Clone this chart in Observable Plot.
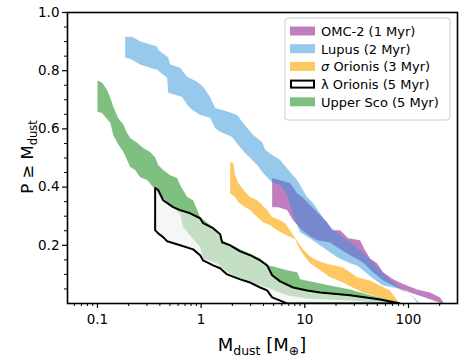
<!DOCTYPE html>
<html><head><meta charset="utf-8">
<script src="https://cdn.jsdelivr.net/npm/d3@7"></script>
<script src="https://cdn.jsdelivr.net/npm/@observablehq/plot@0.6"></script>
<style>
body{margin:0;background:#fff}
#chart svg{font-family:"DejaVu Sans",sans-serif}
</style>
</head><body><div id="chart"></div>
<script>
// ---- data (M_dust in Earth masses, P >= M_dust) ----
const omcHiM = [4.84, 7.21, 8.43, 9.42, 12.0, 16.4, 18.3, 21.9, 26.2, 34.1, 38.1, 42.6, 49.8, 56.9, 71.0, 86.7, 121, 161.5, 201.6, 220];
const omcHiP = [0.431, 0.414, 0.379, 0.366, 0.328, 0.279, 0.252, 0.252, 0.224, 0.217, 0.183, 0.155, 0.138, 0.107, 0.083, 0.069, 0.048, 0.038, 0.021, 0];
const omcLoM = [4.84, 5.53, 6.75, 7.71, 9.42, 11.25, 13.1, 17.5, 25.6, 36.5, 45.5, 56.9, 77.6, 103.5, 144.5, 210.8];
const omcLoP = [0.331, 0.331, 0.321, 0.286, 0.252, 0.231, 0.217, 0.21, 0.172, 0.141, 0.107, 0.079, 0.055, 0.038, 0.021, 0];

const lupHiM = [0.185, 0.216, 0.258, 0.308, 0.376, 0.385, 0.481, 0.502, 0.627, 0.733, 0.915, 1.045, 1.221, 1.365, 1.822, 2.23, 2.49, 2.78, 3.18, 3.88, 4.14, 4.84, 5.78, 7.21, 8.43, 10.5, 12.0, 14.05, 16.4, 20.5, 25.6, 34.1, 45.5, 59.4, 77.6, 96.9, 115.7, 129.3];
const lupHiP = [0.917, 0.917, 0.9, 0.893, 0.883, 0.872, 0.845, 0.821, 0.81, 0.779, 0.762, 0.745, 0.71, 0.672, 0.659, 0.648, 0.624, 0.603, 0.579, 0.555, 0.528, 0.51, 0.493, 0.452, 0.424, 0.366, 0.345, 0.31, 0.276, 0.241, 0.217, 0.183, 0.141, 0.097, 0.062, 0.038, 0.017, 0];
const lupLoM = [0.185, 0.207, 0.258, 0.322, 0.376, 0.47, 0.481, 0.561, 0.655, 0.733, 0.819, 0.978, 1.221, 1.365, 1.525, 1.99, 2.28, 2.66, 2.97, 3.47, 3.97, 4.84, 5.78, 6.75, 7.71, 9.01, 10.8, 13.1, 16.4, 20.5, 27.3, 31.9, 36.5, 45.5, 56.9, 77.6, 96.9, 110.6, 123.7];
const lupLoP = [0.845, 0.841, 0.821, 0.81, 0.803, 0.776, 0.724, 0.717, 0.71, 0.683, 0.666, 0.648, 0.638, 0.603, 0.59, 0.572, 0.545, 0.517, 0.5, 0.476, 0.448, 0.417, 0.407, 0.372, 0.303, 0.245, 0.228, 0.207, 0.183, 0.159, 0.138, 0.131, 0.114, 0.086, 0.062, 0.052, 0.038, 0.021, 0];

const sigHiM = [1.904, 2.04, 2.13, 2.28, 2.49, 2.66, 2.97, 3.47, 3.71, 4.33, 4.84, 5.78, 6.46, 7.21, 8.06, 9.42, 10.5, 12.0, 14.7, 17.5, 23.4, 27.3, 31.9, 42.6, 53.2, 66.4, 79.3, 82.9];
const sigHiP = [0.486, 0.483, 0.441, 0.414, 0.397, 0.383, 0.366, 0.355, 0.345, 0.321, 0.297, 0.286, 0.276, 0.252, 0.224, 0.19, 0.172, 0.155, 0.141, 0.134, 0.124, 0.107, 0.09, 0.079, 0.062, 0.045, 0.007, 0];
const sigLoM = [1.904, 2.13, 2.28, 2.66, 2.97, 3.32, 3.97, 4.63, 5.41, 6.75, 8.06, 8.43, 9.01, 10.07, 11.25, 14.05, 17.5, 23.4, 27.3, 36.5, 53.2, 79.3, 82.9];
const sigLoP = [0.379, 0.366, 0.348, 0.331, 0.321, 0.303, 0.279, 0.269, 0.252, 0.234, 0.222, 0.205, 0.185, 0.159, 0.138, 0.114, 0.09, 0.072, 0.059, 0.038, 0.021, 0.003, 0];

const lamHiM = [0.360, 0.385, 0.43, 0.537, 0.627, 0.783, 0.978, 1.045, 1.305, 1.525, 1.594, 1.904, 2.38, 2.97, 3.71, 4.33, 4.84, 5.78, 7.71, 10.5, 14.05, 27.3, 53.2, 82.9];
const lamHiP = [0.397, 0.39, 0.355, 0.331, 0.321, 0.31, 0.293, 0.276, 0.259, 0.238, 0.21, 0.2, 0.179, 0.166, 0.148, 0.131, 0.097, 0.076, 0.055, 0.045, 0.038, 0.028, 0.014, 0];
const lamLoM = [0.360, 0.385, 0.43, 0.47, 0.627, 0.837, 0.978, 1.045, 1.305, 1.525, 1.78, 2.38, 2.97, 3.71, 4.33, 4.84, 5.78, 6.75];
const lamLoP = [0.252, 0.241, 0.228, 0.214, 0.2, 0.186, 0.166, 0.148, 0.131, 0.121, 0.1, 0.083, 0.072, 0.055, 0.045, 0.021, 0.01, 0];

const uscHiM = [0.100, 0.111, 0.124, 0.133, 0.142, 0.158, 0.178, 0.193, 0.207, 0.241, 0.276, 0.322, 0.360, 0.385, 0.43, 0.502, 0.586, 0.627, 0.733, 0.837, 0.978, 1.305, 1.594, 2.38, 3.71, 3.97, 4.84, 6.75, 8.43, 9.01, 17.5, 27.3, 42.6, 77.6, 82.9];
const uscHiP = [0.766, 0.759, 0.734, 0.707, 0.676, 0.638, 0.614, 0.586, 0.569, 0.552, 0.534, 0.521, 0.503, 0.476, 0.459, 0.441, 0.431, 0.407, 0.366, 0.355, 0.297, 0.262, 0.217, 0.186, 0.155, 0.134, 0.128, 0.114, 0.107, 0.083, 0.062, 0.048, 0.028, 0.007, 0];
const uscLoM = [0.100, 0.111, 0.119, 0.133, 0.142, 0.155, 0.178, 0.193, 0.207, 0.231, 0.258, 0.301, 0.344, 0.402, 0.502, 0.627, 0.67, 0.783, 0.978, 1.045, 1.427, 1.78, 2.38, 3.18, 4.33, 4.84, 6.75, 10.5, 27.3, 53.2, 82.9];
const uscLoP = [0.659, 0.655, 0.641, 0.621, 0.579, 0.552, 0.521, 0.493, 0.469, 0.459, 0.434, 0.424, 0.4, 0.372, 0.338, 0.307, 0.262, 0.234, 0.193, 0.155, 0.138, 0.107, 0.085, 0.069, 0.055, 0.048, 0.028, 0.017, 0.010, 0.003, 0];

const legendLabels = ["OMC-2 (1 Myr)", "Lupus (2 Myr)", "σ Orionis (3 Myr)", "λ Orionis (5 Myr)", "Upper Sco (5 Myr)"];
const xTicks = [0.1, 1, 10, 100];
const xMinor = [0.06,0.07,0.08,0.09,0.2,0.3,0.4,0.5,0.6,0.7,0.8,0.9,2,3,4,5,6,7,8,9,20,30,40,50,60,70,80,90,200];
const yTicks = [0.2, 0.4, 0.6, 0.8, 1.0];
const yMinor = [0.05,0.1,0.15,0.25,0.3,0.35,0.45,0.5,0.55,0.65,0.7,0.75,0.85,0.9,0.95];

// build a closed polygon from upper edge + reversed lower edge
function band(hiM, hiP, loM, loP) {
  const pts = hiM.map((m, i) => ({m, p: hiP[i]}));
  for (let i = loM.length - 1; i >= 0; i--) pts.push({m: loM[i], p: loP[i]});
  pts.push({m: hiM[0], p: hiP[0]});
  return pts;
}
const omc = band(omcHiM, omcHiP, omcLoM, omcLoP);
const lup = band(lupHiM, lupHiP, lupLoM, lupLoP);
const sig = band(sigHiM, sigHiP, sigLoM, sigLoP);
const lam = band(lamHiM, lamHiP, lamLoM, lamLoP);
const usc = band(uscHiM, uscHiP, uscLoM, uscLoP);

const W = 463, H = 361;
const fmtX = d => d < 1 ? String(d) : d3.format("d")(d);

const plot = Plot.plot({
  width: W, height: H,
  marginLeft: 67, marginRight: 6, marginTop: 12, marginBottom: 58,
  style: {fontSize: "13.5px", fontFamily: "DejaVu Sans", color: "black", background: "white"},
  x: {type: "log", domain: [0.0514, 297], axis: null},
  y: {domain: [0, 1], axis: null},
  marks: [
    Plot.line(omc, {x: "m", y: "p", fill: "purple", fillOpacity: 0.5, stroke: "none", clip: true}),
    Plot.line(lup, {x: "m", y: "p", fill: "#2f93d9", fillOpacity: 0.5, stroke: "none", clip: true}),
    Plot.line(usc, {x: "m", y: "p", fill: "green", fillOpacity: 0.5, stroke: "none", clip: true}),
    Plot.line(lam, {x: "m", y: "p", fill: "#eef3ee", fillOpacity: 0.63, stroke: "none", clip: true}),
    Plot.line(sig, {x: "m", y: "p", fill: "#ffa500", fillOpacity: 0.62, stroke: "none", clip: true}),
    Plot.line(lam, {x: "m", y: "p", stroke: "black", strokeWidth: 2, clip: true}),
    Plot.axisX({ticks: xTicks, tickFormat: fmtX, tickSize: 5, tickPadding: 6, label: null, strokeWidth: 1.2}),
    Plot.axisX({ticks: xMinor, tickFormat: () => "", tickSize: 3, label: null, strokeWidth: 1}),
    Plot.axisY({ticks: yTicks, tickFormat: d3.format(".1f"), tickSize: 5, tickPadding: 3, label: null, strokeWidth: 1.2}),
    Plot.axisY({ticks: yMinor, tickFormat: () => "", tickSize: 3, label: null, strokeWidth: 1}),
    Plot.frame({stroke: "black", strokeWidth: 1.6})
  ]
});
document.getElementById("chart").appendChild(plot);

const svg = d3.select(plot);
// y label
const yl = svg.append("text").attr("transform", "translate(33,157) rotate(-90)")
  .attr("text-anchor", "middle").attr("font-size", 16.5).attr("fill", "black");
yl.append("tspan").text("P ≥ M");
yl.append("tspan").attr("font-size", 11.5).attr("dy", 4).text("dust");
// x label
const xl = svg.append("text").attr("x", 262).attr("y", 351)
  .attr("text-anchor", "middle").attr("font-size", 18).attr("fill", "black");
xl.append("tspan").text("M");
xl.append("tspan").attr("font-size", 12.5).attr("dy", 4).text("dust");
xl.append("tspan").attr("dy", -4).text(" [M");
xl.append("tspan").attr("font-size", 12.5).attr("dy", 4).text("⊕");
xl.append("tspan").attr("dy", -4).text("]");

// legend
const lg = svg.append("g").attr("text-anchor", "start");
lg.append("rect").attr("x", 285).attr("y", 18).attr("width", 165).attr("height", 102)
  .attr("rx", 3).attr("fill", "white").attr("fill-opacity", 0.8).attr("stroke", "#cccccc").attr("stroke-width", 1);
const sw = [
  {fill: "purple", op: 0.5},
  {fill: "#2f93d9", op: 0.5},
  {fill: "#ffa500", op: 0.62},
  {fill: "white", op: 1, stroke: "black"},
  {fill: "green", op: 0.5}
];
legendLabels.forEach((t, i) => {
  const cy = 31 + i * 17.7;
  const s = sw[i];
  lg.append("rect").attr("x", s.stroke ? 291 : 290).attr("y", cy - (s.stroke ? 3.5 : 4.5))
    .attr("width", s.stroke ? 23 : 25).attr("height", s.stroke ? 7 : 9)
    .attr("fill", s.fill).attr("fill-opacity", s.op)
    .attr("stroke", s.stroke || "none").attr("stroke-width", 2);
  const tx = lg.append("text").attr("x", 321).attr("y", cy + 4.8).attr("font-size", 13)
    .attr("text-anchor", "start").attr("fill", "black");
  if (i === 2) {
    tx.append("tspan").attr("font-style", "italic").text("σ");
    tx.append("tspan").text(t.slice(1));
  } else tx.text(t);
});
</script>
</body></html>
